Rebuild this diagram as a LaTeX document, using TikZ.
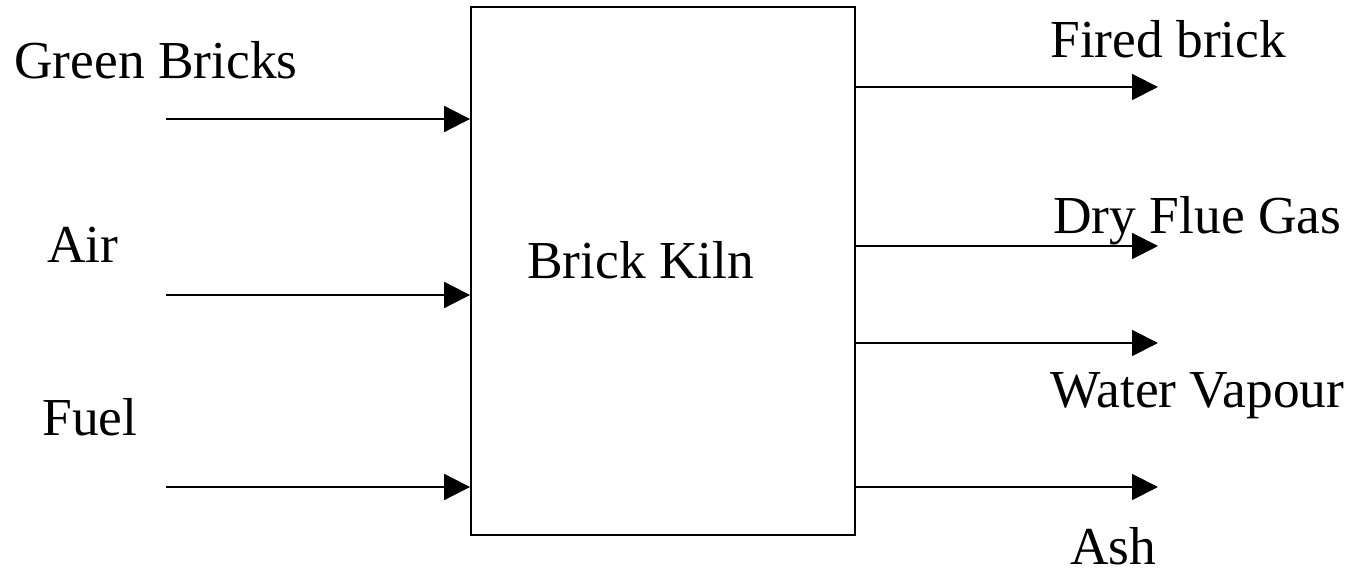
\documentclass[tikz,border=0pt]{standalone}
\usepackage{fontspec}
\setmainfont{Liberation Serif}
\usetikzlibrary{arrows.meta}

\tikzset{
  lbl/.style={anchor=base west, inner sep=0pt, font=\fontsize{30.4}{36}\selectfont},
  flow/.style={line width=1.1pt, -{Triangle[length=14.7pt, width=14.7pt]}}
}

\begin{document}
\begin{tikzpicture}[x=0.02cm, y=-0.02cm]
  \useasboundingbox (0,0) rectangle (1363,573);
  \node[draw, line width=1.1pt, minimum width=7.68cm, minimum height=10.56cm, inner sep=0pt] (kiln) at (663,271) {};
  \node[lbl] (kilnlbl) at (527,279) {Brick Kiln};

  % inputs
  \node[lbl] (green) at (14,79) {Green Bricks};
  \node[lbl] (air) at (47,263) {Air};
  \node[lbl] (fuel) at (42,436) {Fuel};
  \coordinate (in1) at (166,119);
  \coordinate (in2) at (166,295);
  \coordinate (in3) at (166,487);

  % outputs
  \node[lbl] (fired) at (1050,58) {Fired brick};
  \node[lbl] (flue) at (1053,234) {Dry Flue Gas};
  \node[lbl] (vapour) at (1050,408) {Water Vapour};
  \node[lbl] (ash) at (1070,565) {Ash};
  \coordinate (out1) at (1158,87);
  \coordinate (out2) at (1158,246);
  \coordinate (out3) at (1158,343);
  \coordinate (out4) at (1158,487);

  \draw[flow] (in1) -- (in1 -| kiln.west);
  \draw[flow] (in2) -- (in2 -| kiln.west);
  \draw[flow] (in3) -- (in3 -| kiln.west);
  \draw[flow] (out1 -| kiln.east) -- (out1);
  \draw[flow] (out2 -| kiln.east) -- (out2);
  \draw[flow] (out3 -| kiln.east) -- (out3);
  \draw[flow] (out4 -| kiln.east) -- (out4);
\end{tikzpicture}
\end{document}
